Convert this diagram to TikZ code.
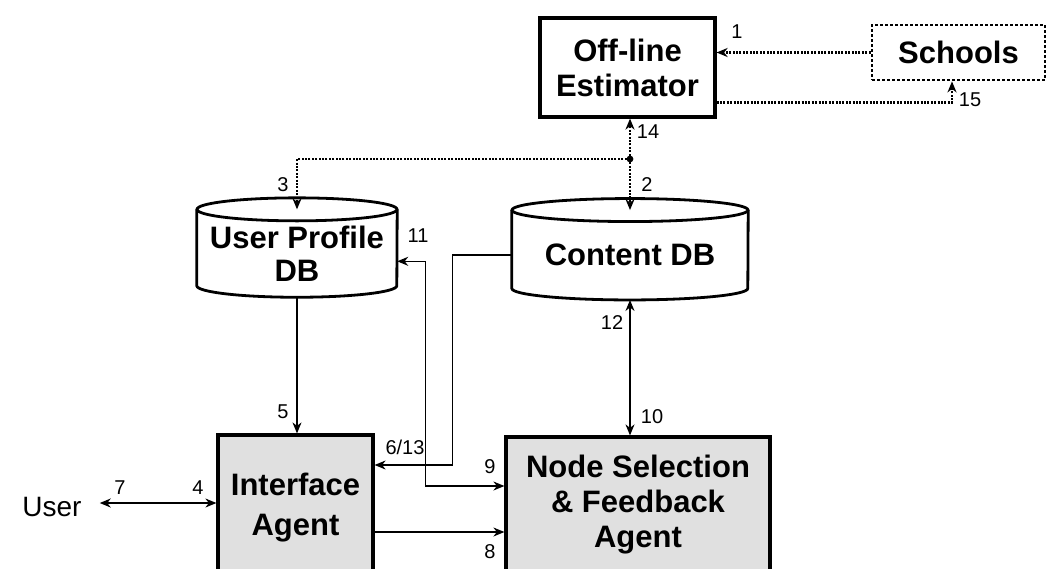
\documentclass[tikz,border=0pt]{standalone}
\usepackage{fontspec}
\setmainfont{Liberation Sans}
\usetikzlibrary{arrows.meta,positioning}
\tikzset{
  blk/.style={draw,line width=3.2pt,align=center,inner sep=0pt,
    font=\bfseries\fontsize{31}{35}\selectfont},
  agent/.style={blk,fill=black!12},
  dbase/.style={align=center,inner sep=0pt,font=\bfseries\fontsize{31}{33}\selectfont},
  dbline/.style={line width=2.8pt},
  tip/.style={-{Stealth[length=11pt,width=9pt,inset=3.5pt]}},
  twotip/.style={{Stealth[length=11pt,width=9pt,inset=3.5pt]}-{Stealth[length=11pt,width=9pt,inset=3.5pt]}},
  con/.style={line width=1.3pt,tip},
  con2/.style={line width=1.3pt,twotip},
  dotline/.style={line width=2.2pt,dash pattern=on 2pt off 1.4pt,tip},
  num/.style={inner sep=0pt,font=\fontsize{20}{20}\selectfont}
}
\newcommand{\dbcyl}[2]{%
  \draw[dbline] (#1.north west) -- ([yshift=11.5pt]#1.south west)
    arc[start angle=180,end angle=360,x radius=#2,y radius=11.5pt]
    -- (#1.north east);
  \draw[dbline] (#1.north) ellipse[x radius=#2,y radius=11.5pt];
}

\begin{document}
\begin{tikzpicture}[x=1pt,y=-1pt]
  \clip (0,0) rectangle (1049,568);
  % boxes
  \node[blk,minimum width=175,minimum height=99] (est) at (627.5,67.5) {Off-line\\Estimator};
  \node[draw,line width=2.8pt,dash pattern=on 3pt off 2pt,minimum width=173,minimum height=55,
    font=\bfseries\fontsize{31}{35}\selectfont] (sch) at (958.5,52.5) {Schools};
  \node[dbase,minimum width=200,minimum height=87.5] (updb) at (297,253.3) {User Profile\\DB};
  \node[dbase,minimum width=236,minimum height=89.5] (cdb) at (630,255) {Content DB};
  \dbcyl{updb}{100pt}
  \dbcyl{cdb}{118pt}
  \node[agent,minimum width=155,minimum height=145,font=\bfseries\fontsize{31}{40}\selectfont]
    (ia) at (295.5,507.5) {Interface\\Agent};
  \node[agent,minimum width=264,minimum height=135] (nsf) at (638,504.5) {Node Selection\\\& Feedback\\Agent};
  \node[inner sep=0pt,font=\fontsize{28}{30}\selectfont] (user) at (52,507) {User};
  \coordinate (hub) at (630,159);
  % dotted links
  \draw[dotline] (sch.west) -- (sch.west -| est.east);
  \draw[dotline] ([yshift=-35pt]est.east) -| ([xshift=-6.5pt]sch.south);
  \draw[dotline] (hub) -- (hub |- est.south);
  \draw[dotline] (hub) -- (cdb.north);
  \draw[dotline] (hub) -| (updb.north);
  \fill (hub) circle (3.4pt);
  % solid links
  \draw[con] (updb.south) -- (updb.south |- ia.north);
  \draw[con2] ([yshift=-8pt]updb.east) -- ++(28,0) |- ([yshift=18.5pt]nsf.west);
  \draw[con] (cdb.west) -- ++(-59,0) |- ([yshift=42.5pt]ia.east);
  \draw[con] ([yshift=-24.5pt]ia.east) -- ([yshift=-24.5pt]ia.east -| nsf.west);
  \draw[con2] (cdb.south) -- (cdb.south |- nsf.north);
  \draw[con2] ([xshift=18pt,yshift=4pt]user.east) -- ([yshift=4pt]user.east -| ia.west);
  % numbers
  \node[num] (n1) at (737,32) {1};
  \node[num] (n2) at (647,185) {2};
  \node[num] (n3) at (283,185) {3};
  \node[num] (n4) at (198,488) {4};
  \node[num] (n5) at (283,412) {5};
  \node[num] (n613) at (405,447) {6/13};
  \node[num] (n7) at (120,488) {7};
  \node[num] (n8) at (490,552) {8};
  \node[num] (n9) at (490,467) {9};
  \node[num] (n10) at (652,417) {10};
  \node[num] (n11) at (418,236) {11};
  \node[num] (n12) at (612,323) {12};
  \node[num] (n14) at (648,132) {14};
  \node[num] (n15) at (970,100) {15};
\end{tikzpicture}
\end{document}
